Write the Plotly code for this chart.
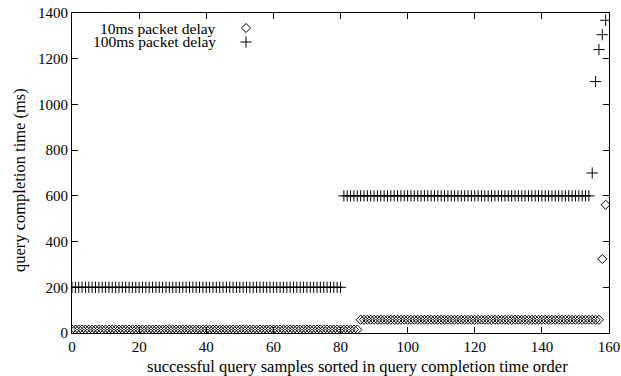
import plotly.graph_objects as go

# sample index (sorted by completion time)
idx = list(range(160))

# 10ms packet delay (ms)
delay_10ms = [15] * 86 + [58] * 72 + [324, 561]
# 100ms packet delay (ms)
delay_100ms = [200] * 81 + [600] * 74 + [700, 1100, 1240, 1305, 1368]

x_ticks = [0, 20, 40, 60, 80, 100, 120, 140, 160]
y_ticks = [0, 200, 400, 600, 800, 1000, 1200, 1400]

FONT = "Liberation Serif"
DIAMOND = dict(symbol="diamond-open", size=7, color="black", line=dict(width=1, color="black"))
CROSS = dict(symbol="cross-thin-open", size=8, color="black", line=dict(width=1, color="black"))

fig = go.Figure()
fig.add_trace(go.Scatter(x=idx, y=delay_10ms, mode="markers", name="10ms packet delay",
                         showlegend=False, marker=DIAMOND))
fig.add_trace(go.Scatter(x=idx, y=delay_100ms, mode="markers", name="100ms packet delay",
                         showlegend=False, marker=CROSS))
# legend keys (key text drawn as annotations to the left, gnuplot style)
fig.add_trace(go.Scatter(x=[None], y=[None], mode="markers", name="", showlegend=True,
                         marker=DIAMOND, legend="legend"))
fig.add_trace(go.Scatter(x=[None], y=[None], mode="markers", name="", showlegend=True,
                         marker=CROSS, legend="legend2"))

axis_common = dict(
    showline=True, linecolor="black", linewidth=1, mirror="ticks",
    ticks="inside", ticklen=6, tickcolor="black", showgrid=False, zeroline=False,
    automargin=False,
    tickfont=dict(family=FONT, size=15, color="black"),
)

H = 320.0  # plot height px
def py(px):
    return (333.0 - px) / H

def pxx(px):
    return (px - 72.0) / 537.0

leg_common = dict(xanchor="left", yanchor="middle", bgcolor="rgba(0,0,0,0)",
                  borderwidth=0, font=dict(size=10), itemwidth=30)

fig.update_layout(
    width=621, height=376,
    margin=dict(l=72, r=12, t=13, b=43),
    paper_bgcolor="white", plot_bgcolor="white",
    font=dict(family=FONT, size=15, color="black"),
    xaxis=dict(range=[0, 160], tickvals=x_ticks, **axis_common),
    yaxis=dict(range=[0, 1400], tickvals=y_ticks, **axis_common),
    legend=dict(x=pxx(246 - 20), y=py(28), **leg_common),
    legend2=dict(x=pxx(246 - 20), y=py(42), **leg_common),
    annotations=[
        dict(text="10ms packet delay", xref="paper", yref="paper", x=pxx(218), y=py(28),
             xanchor="right", yanchor="middle", showarrow=False, font=dict(family=FONT, size=15.5)),
        dict(text="100ms packet delay", xref="paper", yref="paper", x=pxx(218), y=py(42),
             xanchor="right", yanchor="middle", showarrow=False, font=dict(family=FONT, size=15.5)),
        dict(text="successful query samples sorted in query completion time order",
             xref="paper", yref="paper", x=pxx(357.5), y=py(366),
             xanchor="center", yanchor="middle", showarrow=False, font=dict(family=FONT, size=16.5)),
        dict(text="query completion time (ms)", textangle=-90,
             xref="paper", yref="paper", x=pxx(19), y=py(180),
             xanchor="center", yanchor="middle", showarrow=False, font=dict(family=FONT, size=16.5)),
    ],
)

fig.write_html("out.html")
